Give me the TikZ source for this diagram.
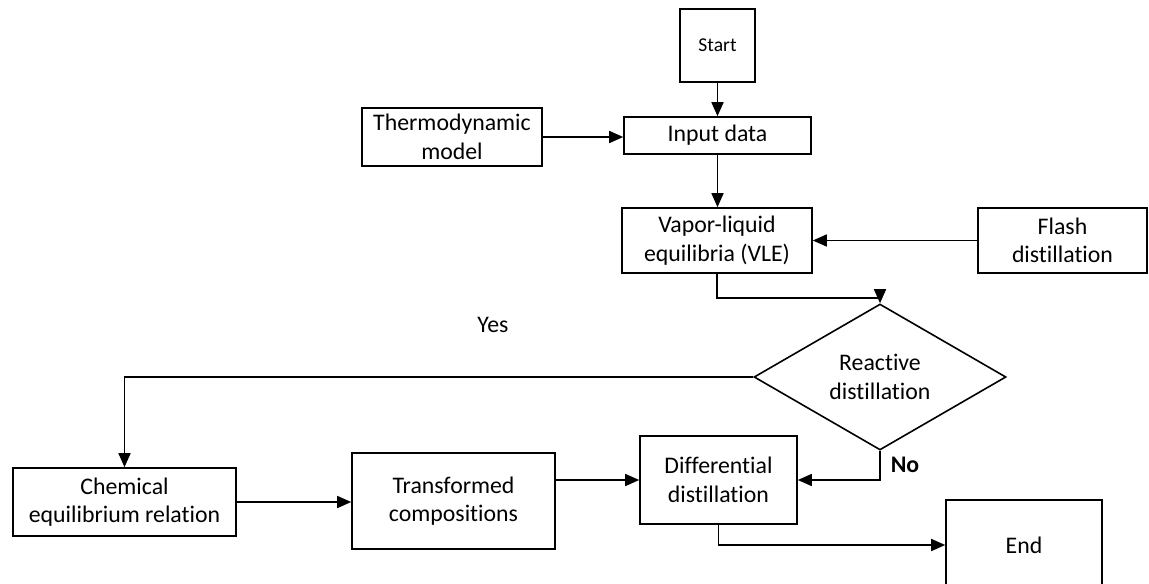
\documentclass[tikz,border=0pt]{standalone}
\usepackage{fontspec}
\setmainfont{Carlito}[Ligatures=NoCommon]
\usepackage{tikz}
\usetikzlibrary{arrows.meta,shapes.geometric,calc}

\begin{document}
\begin{tikzpicture}[->,>={Triangle[length=7pt,width=6pt]},x=0.5pt,y=-0.5pt,line width=0.8pt]
  \tikzstyle{block}=[draw,rectangle,align=center,inner sep=2pt,font=\fontsize{11.9}{14.2}\selectfont]
  \tikzstyle{decision}=[draw,diamond,align=center,inner sep=0pt,font=\fontsize{11.9}{14.2}\selectfont]
  \tikzstyle{tag}=[font=\fontsize{11.9}{14.2}\selectfont]

  \useasboundingbox (0,0) rectangle (1149,583);

  \node[block,minimum width=37.5pt,minimum height=36.5pt,font=\fontsize{9.8}{12}\selectfont] (start) at (717.5,45.5) {Start};
  \node[block,minimum width=93.5pt,minimum height=18.5pt] (input)  at (717.5,135.5) {Input data};
  \node[block,minimum width=90pt,minimum height=29pt]     (thermo) at (452,137)     {Thermodynamic\\model};
  \node[block,minimum width=95pt,minimum height=32.5pt]   (vle)    at (717,240.5)   {Vapor-liquid\\equilibria (VLE)};
  \node[block,minimum width=84.5pt,minimum height=32.5pt] (flash)  at (1062.5,240.5) {Flash\\distillation};
  \node[decision,minimum width=126pt,minimum height=67pt] (react)  at (880,377)     {Reactive\\distillation};
  \node[block,minimum width=111.5pt,minimum height=34pt]  (chem)   at (124.5,502)   {Chemical\\equilibrium relation};
  \node[block,minimum width=101.5pt,minimum height=48pt]  (trans)  at (453.5,501)   {Transformed\\compositions};
  \node[block,minimum width=78.5pt,minimum height=44pt]   (diff)   at (718.5,480)   {Differential\\distillation};
  \node[block,minimum width=78pt,minimum height=45pt]     (end)    at (1024,545)    {End};
  \node[tag] (yes) at (493,325) {Yes};
  \node[tag,font=\fontsize{11.9}{14.2}\selectfont\bfseries] (no) at (905,465) {No};

  \path
    (start) edge (input)
    (thermo.east) edge (thermo.east -| input.west)
    (input.south) edge (input.south |- vle.north)
    (flash.west) edge (flash.west -| vle.east)
    (chem.east) edge (chem.east -| trans.west)
    (diff.west -| trans.east) edge (diff.west);

  \draw (vle.south) -- ++(0,24) -| (react.north);
  \draw (react.west) -| (chem.north);
  \draw (react.south) |- (diff.east);
  \draw (diff.south) |- (end.west);
\end{tikzpicture}
\end{document}
